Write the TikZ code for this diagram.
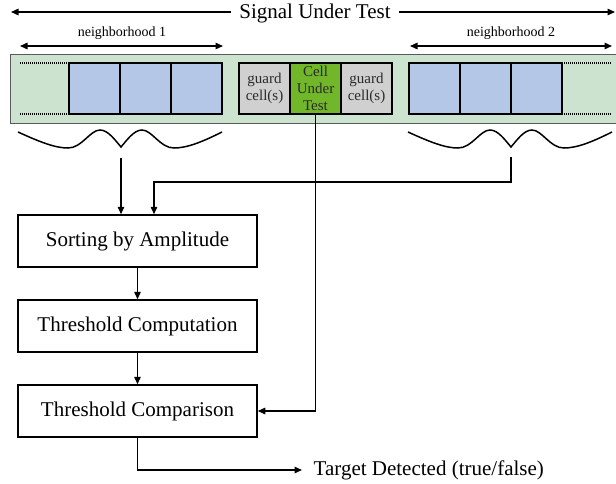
\documentclass[tikz,border=0pt]{standalone}
\usepackage{fontspec}
\setmainfont{Liberation Serif}
\usetikzlibrary{arrows.meta}
\definecolor{bandgreen}{HTML}{CCE3D0}
\definecolor{bandborder}{HTML}{5A5A5A}
\definecolor{nbblue}{HTML}{B4C7E7}
\definecolor{guardgray}{HTML}{D0D0D0}
\definecolor{cutgreen}{HTML}{72B62A}
\definecolor{celltext}{HTML}{2A2A2A}
\begin{document}
\begin{tikzpicture}[x=1pt,y=-1pt,
  line width=1.4pt,
  arr/.style={-{Triangle[length=7.5pt,width=6.5pt]}},
  darr/.style={{Triangle[length=7.5pt,width=6.5pt]}-{Triangle[length=7.5pt,width=6.5pt]}},
  cellbox/.style={draw=black,line width=1.5pt,minimum width=51pt,minimum height=51pt,inner sep=0pt,
    align=center,text=celltext,font=\fontsize{15}{16.8}\selectfont},
  nbcell/.style={cellbox,fill=nbblue},
  guardcell/.style={cellbox,fill=guardgray},
  cutcell/.style={cellbox,fill=cutgreen},
  procbox/.style={draw,line width=1.5pt,minimum width=239pt,minimum height=52pt,inner sep=0pt,
    font=\fontsize{21}{25}\selectfont},
  big/.style={font=\fontsize{21}{25}\selectfont},
  small/.style={font=\fontsize{14}{16.5}\selectfont},
  dotline/.style={line width=1.2pt,dash pattern=on 1pt off 1pt},
  brace/.style={line width=1.5pt}]
\useasboundingbox (0,0) rectangle (616,483);

% title
\node[big,inner sep=8pt] (sig) at (315,13) {Signal Under Test};
\coordinate (sl) at (11,12);
\coordinate (sr) at (615,12);
\draw[arr] (sig.west |- sl) -- (sl);
\draw[arr] (sig.east |- sr) -- (sr);

% neighborhood labels
\node[small] (n1) at (122,33) {neighborhood 1};
\node[small] (n2) at (511,33) {neighborhood 2};
\coordinate (n1l) at (20,46);
\coordinate (n1r) at (223,46);
\coordinate (n2l) at (410,46);
\coordinate (n2r) at (612,46);
\draw[darr] (n1l) -- (n1r);
\draw[darr] (n2l) -- (n2r);

% band
\draw[draw=bandborder,fill=bandgreen,line width=1pt] (10,54) rectangle (625,123);
\draw[dotline] (20,63) -- (69,63);
\draw[dotline] (20,114) -- (69,114);
\draw[dotline] (562,63) -- (612,63);
\draw[dotline] (562,114) -- (612,114);

% cells
\node[nbcell] (l1) at (94.5,88.5) {};
\node[nbcell] (l2) at (145.5,88.5) {};
\node[nbcell] (l3) at (196.5,88.5) {};
\node[guardcell] (g1) at (264.5,88.5) {guard\\cell(s)};
\node[cutcell] (cut) at (315.5,88.5) {Cell\\Under\\Test};
\node[guardcell] (g2) at (366.5,88.5) {guard\\cell(s)};
\node[nbcell] (r1) at (434.5,88.5) {};
\node[nbcell] (r2) at (485.5,88.5) {};
\node[nbcell] (r3) at (536.5,88.5) {};

% braces
\foreach \dx in {0,390}{
\draw[brace,shift={(\dx,0)}] (18,132) .. controls (40,142) and (55,148) .. (68,148)
  .. controls (82,148) and (90,130) .. (100,130)
  .. controls (108,130) and (115,140) .. (121,147)
  .. controls (127,140) and (134,130) .. (142,130)
  .. controls (152,130) and (160,148) .. (174,148)
  .. controls (187,148) and (202,142) .. (222,132);
}

% process boxes
\node[procbox] (sort) at (137.5,241) {Sorting by Amplitude};
\node[procbox] (comp) at (137.5,326) {Threshold Computation};
\node[procbox] (cmp) at (137.5,411) {Threshold Comparison};

% connectors
\coordinate (b1s) at (121,158);
\coordinate (b2s) at (511,157);
\coordinate (j) at (154,182);
\draw[arr] (b1s) -- (b1s |- sort.north);
\draw[arr] (b2s) |- (j) -- (j |- sort.north);
\draw[arr] (sort) -- (comp);
\draw[arr] (comp) -- (cmp);
\draw[arr] (cut.south) |- (cmp.east);

% output
\node[big,anchor=west,inner sep=0pt] (td) at (313,470) {Target Detected (true/false)};
\draw[arr,shorten >=11pt] (cmp.south) |- (td.west);
\end{tikzpicture}
\end{document}
